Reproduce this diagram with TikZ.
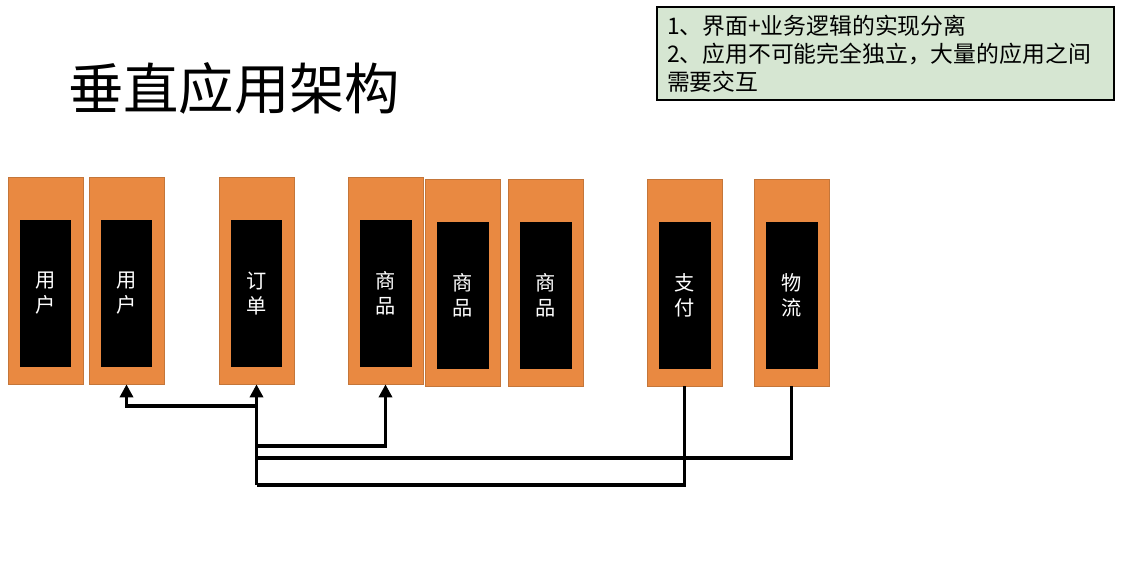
\documentclass[tikz,border=0pt]{standalone}
\usepackage{fontspec}
\newfontfamily\cjk{Noto Sans CJK SC}
\usepackage{tikz}
\usetikzlibrary{arrows.meta,positioning}
\usepackage{xcolor}
\definecolor{apporange}{RGB}{233,137,65}
\definecolor{appborder}{RGB}{196,118,58}
\definecolor{notegreen}{RGB}{214,230,210}
\tikzstyle{call} = [line width=2pt,-{Triangle[length=0.26cm,width=0.26cm]}]
\tikzstyle{link} = [line width=2pt]
\tikzstyle{note} = [rectangle, draw=black, line width=1.3pt, fill=notegreen, text width=8.74cm, minimum height=1.86cm, inner xsep=0.2cm, align=left, font=\cjk\fontsize{13}{16}\selectfont]

\begin{document}
\begin{tikzpicture}[x=0.02cm, y=-0.02cm,
    app/.style={rectangle, draw=appborder, fill=apporange, minimum width=1.5cm, minimum height=4.14cm, inner sep=0pt},
    module/.style={rectangle, fill=black, minimum width=1.04cm, minimum height=2.94cm, inner sep=0pt, text=white, align=center, font=\cjk\fontsize{11.5}{14.2}\selectfont}]

\useasboundingbox (0,0) rectangle (1148,562);

% Title and note
\node[anchor=west, font=\cjk\fontsize{31.5}{31.5}\selectfont] (title) at (62,88) {垂直应用架构};
\node[note] (points) at (885.5,53.5) {1、界面+业务逻辑的实现分离\\2、应用不可能完全独立，大量的应用之间\\需要交互};

% Applications
\node[app] (yh1) at (45.5,280.5) {};
\node[app] (yh2) at (126.5,280.5) {};
\node[app] (dd) at (256.5,280.5) {};
\node[app] (sp1) at (385.5,280.5) {};
\node[app] (sp2) at (462.5,282.5) {};
\node[app] (sp3) at (545.5,282.5) {};
\node[app] (zf) at (684.5,282.5) {};
\node[app] (wl) at (791.5,282.5) {};

% Modules
\node[module] (m1) at ([yshift=-0.26cm]yh1.center) {用\\户};
\node[module] (m2) at ([yshift=-0.26cm]yh2.center) {用\\户};
\node[module] (m3) at ([yshift=-0.26cm]dd.center) {订\\单};
\node[module] (m4) at ([yshift=-0.26cm]sp1.center) {商\\品};
\node[module] (m5) at ([yshift=-0.26cm]sp2.center) {商\\品};
\node[module] (m6) at ([yshift=-0.26cm]sp3.center) {商\\品};
\node[module] (m7) at ([yshift=-0.26cm]zf.center) {支\\付};
\node[module] (m8) at ([yshift=-0.26cm]wl.center) {物\\流};

% Calls
\coordinate (up) at (0,406);
\coordinate (sp) at (0,446);
\coordinate (mid) at (0,458);
\coordinate (low) at (0,485);

\draw[link] (zf.south) |- (dd.south |- low);
\draw[link] (wl.south) |- (dd.south |- mid);
\draw[call] (dd.south |- low) -- (dd.south);
\draw[call] (dd.south |- sp) -| (sp1.south);
\draw[call] (dd.south |- up) -| (yh2.south);
\end{tikzpicture}
\end{document}
